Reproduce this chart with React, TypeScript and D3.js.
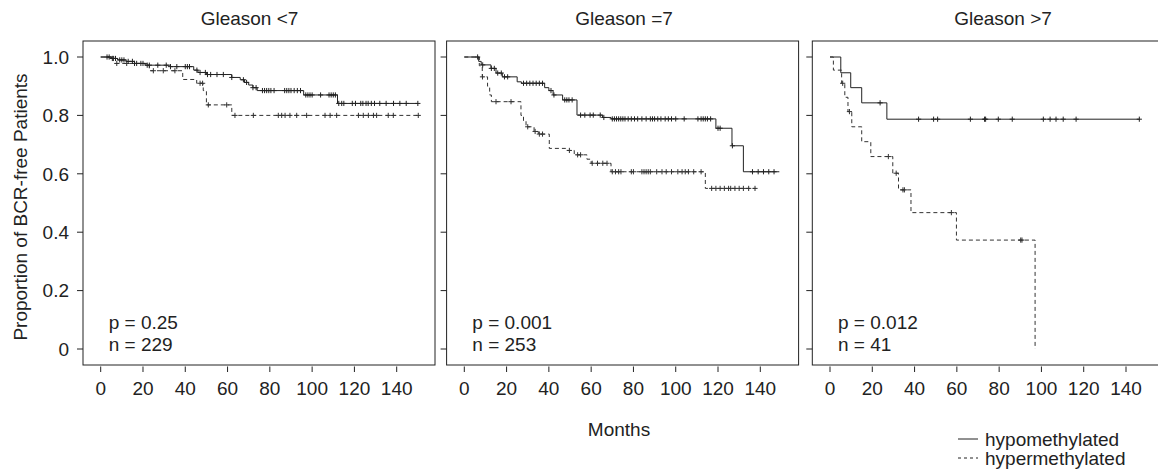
import React from 'react'
import * as d3 from 'd3'

// panel titles and stats
const TITLES = ['Gleason <7', 'Gleason =7', 'Gleason >7']
const P_VALUES = ['0.25', '0.001', '0.012']
const N_VALUES = ['229', '253', '41']

const X_TICKS = [0, 20, 40, 60, 80, 100, 120, 140]
const Y_TICKS = [0, 0.2, 0.4, 0.6, 0.8, 1.0]
const Y_TICK_LABELS = ['0', '0.2', '0.4', '0.6', '0.8', '1.0']

// Kaplan-Meier steps: [month, proportion after the step]
const g1HypoSteps = [[0, 1], [5, 0.995], [8, 0.99], [12, 0.985], [16, 0.978], [21, 0.972], [33, 0.967], [44, 0.955], [46, 0.947], [50, 0.94], [62, 0.93], [66, 0.922], [68, 0.913], [70, 0.904], [72, 0.895], [74, 0.885], [96, 0.87], [112, 0.841]]
const g1HypoEnd = 150
const g1HypoCensor = [3, 4, 5.5, 6, 7, 9, 10, 11, 13, 15, 16, 17, 19, 20, 22, 23, 27, 31, 33, 36, 40, 41, 42, 45.5, 47, 49.5, 50.5, 52, 55, 58, 62, 67.5, 69, 72, 73.5, 76.5, 77.5, 78.5, 79.5, 80.5, 82, 87, 88, 89, 90, 91.5, 93, 94.5, 97, 98, 99, 100, 104, 108, 109, 110, 111, 112.6, 114, 115, 119, 120.5, 123, 124, 125.5, 126.5, 128, 129.5, 132, 135, 138.5, 141.5, 144.5, 150]

const g1HyperSteps = [[0, 1], [7, 0.978], [23, 0.953], [38.8, 0.923], [45.4, 0.91], [48.5, 0.885], [50, 0.836], [62, 0.8]]
const g1HyperEnd = 151
const g1HyperCensor = [7.6, 12.3, 24.9, 29.6, 35.1, 47, 48.2, 50.9, 59.6, 63.5, 72.2, 84, 85.6, 87.2, 89.5, 92.7, 97.4, 106.1, 108.5, 111.6, 121.9, 124.2, 126.6, 129, 130.5, 136, 138.4, 150.2]

const g2HypoSteps = [[0, 1], [6.8, 0.985], [8, 0.973], [12.6, 0.961], [15, 0.945], [18, 0.932], [25, 0.915], [27, 0.91], [38, 0.895], [40, 0.885], [42, 0.87], [46.5, 0.853], [53.3, 0.801], [65.4, 0.793], [69.4, 0.788], [119, 0.756], [126.6, 0.696], [132, 0.607]]
const g2HypoEnd = 149
const g2HypoCensor = [6.3, 8.7, 12.8, 14.2, 15.8, 17.5, 19, 20.5, 28, 29.5, 31, 32.5, 34, 35.5, 37, 41, 42.4, 47.5, 48.5, 49.5, 51, 55, 57, 59.5, 61, 64.3, 66, 70, 71, 72, 73, 74, 75, 76, 77.5, 79, 80.5, 82, 84, 86, 88, 89, 90, 91.5, 93, 95, 96.5, 98, 100, 104, 110.5, 112, 113, 114, 115, 116.5, 120, 121, 126.8, 136.3, 139, 141.5, 144, 146.5]

const g2HyperSteps = [[0, 1], [7.1, 0.97], [8.5, 0.932], [11, 0.9], [12, 0.87], [12.8, 0.847], [26.8, 0.8], [28, 0.78], [29.2, 0.761], [33, 0.745], [35, 0.736], [40.2, 0.687], [48, 0.68], [52, 0.665], [58, 0.65], [60, 0.636], [69.4, 0.607], [114, 0.55]]
const g2HyperEnd = 138
const g2HyperCensor = [8.6, 15, 22.1, 30, 33.5, 35.5, 37, 49.7, 53.6, 55, 60.5, 63, 65.5, 67.5, 70, 71.5, 73, 74.1, 79, 80, 84, 85, 86, 87, 88, 91, 93.5, 95.5, 98, 101, 103, 104.5, 106, 108.5, 112, 117, 119, 121, 123, 125, 126, 128, 130, 132, 134.5, 137.5]

const g3HypoSteps = [[0, 1], [5.1, 0.946], [9.8, 0.895], [15, 0.843], [26.9, 0.787]]
const g3HypoEnd = 146.3
const g3HypoCensor = [23.7, 41.9, 49, 50.9, 66.4, 73.1, 73.6, 79.6, 86.2, 100.9, 104.1, 106.9, 110.3, 116.4, 146.3]

const g3HyperSteps = [[0, 1], [1.6, 0.955], [5.5, 0.91], [7, 0.862], [8.5, 0.813], [10.3, 0.761], [15, 0.71], [19.3, 0.659], [29.7, 0.602], [32.4, 0.545], [38.3, 0.467], [59.8, 0.373], [97, 0]]
const g3HyperEnd = 97
const g3HyperCensor = [6, 9.2, 27.6, 31.3, 34.5, 35.2, 57.4, 90.2, 90.8]

const PANELS = [
  { hypo: g1HypoSteps, hypoEnd: g1HypoEnd, hypoCensor: g1HypoCensor, hyper: g1HyperSteps, hyperEnd: g1HyperEnd, hyperCensor: g1HyperCensor },
  { hypo: g2HypoSteps, hypoEnd: g2HypoEnd, hypoCensor: g2HypoCensor, hyper: g2HyperSteps, hyperEnd: g2HyperEnd, hyperCensor: g2HyperCensor },
  { hypo: g3HypoSteps, hypoEnd: g3HypoEnd, hypoCensor: g3HypoCensor, hyper: g3HyperSteps, hyperEnd: g3HyperEnd, hyperCensor: g3HyperCensor },
]

// layout
const width = 1158
const height = 472
const panelLefts = [83, 446.6, 812.3]
const panelWidth = 352
const boxTop = 41
const boxBottom = 365
const titleX = [249.5, 624, 1003]
const font = "'Liberation Sans', Arial, sans-serif"
const fontSize = 19
const ink = '#222'

const yScale = d3.scaleLinear().domain([0, 1]).range([349, 57])

const survivalAt = (steps: number[][], t: number) => {
  let s = steps[0][1]
  for (const st of steps) if (st[0] <= t) s = st[1]
  return s
}

const Curve = ({ steps, end, censor, xScale, dashed }: any) => {
  const pts = [...steps, [end, steps[steps.length - 1][1]]]
  const line = d3.line<number[]>()
    .x(d => xScale(d[0]))
    .y(d => yScale(d[1]))
    .curve(d3.curveStepAfter)
  const col = dashed ? '#333' : ink
  return (
    <g>
      <path d={line(pts) || ''} fill="none" stroke={col} strokeWidth={1}
        strokeDasharray={dashed ? '4,3' : undefined} />
      {censor.map((t: number, i: number) => {
        const cx = xScale(t)
        const cy = yScale(survivalAt(steps, t))
        return (
          <path key={i} d={`M${cx - 2.6},${cy}H${cx + 2.6}M${cx},${cy - 2.6}V${cy + 2.6}`}
            stroke={col} strokeWidth={1} />
        )
      })}
    </g>
  )
}

const Panel = ({ idx }: { idx: number }) => {
  const left = panelLefts[idx]
  const xScale = d3.scaleLinear().domain([0, 140]).range([left + 17.7, left + 313.7])
  const p = PANELS[idx]
  return (
    <g>
      <text x={titleX[idx]} y={25} textAnchor="middle">{TITLES[idx]}</text>
      <rect x={left} y={boxTop} width={panelWidth} height={boxBottom - boxTop}
        fill="none" stroke={ink} strokeWidth={1} />
      {Y_TICKS.map((v, i) => (
        <g key={i}>
          <line x1={left - 6} x2={left} y1={yScale(v)} y2={yScale(v)} stroke={ink} />
          {idx === 0 && (
            <text x={69} y={yScale(v)} dy="0.36em" textAnchor="end">{Y_TICK_LABELS[i]}</text>
          )}
        </g>
      ))}
      {X_TICKS.map(v => (
        <g key={v}>
          <line x1={xScale(v)} x2={xScale(v)} y1={366.5} y2={372} stroke={ink} />
          <text x={xScale(v)} y={395} textAnchor="middle">{v}</text>
        </g>
      ))}
      <Curve steps={p.hyper} end={p.hyperEnd} censor={p.hyperCensor} xScale={xScale} dashed />
      <Curve steps={p.hypo} end={p.hypoEnd} censor={p.hypoCensor} xScale={xScale} />
      <text x={xScale(0) + 8} y={328.5}>p = {P_VALUES[idx]}</text>
      <text x={xScale(0) + 8} y={350.5}>n = {N_VALUES[idx]}</text>
    </g>
  )
}

const App = () => {
  return (
    <svg width={width} height={height}
      style={{ position: 'absolute', left: 0, top: 0, background: '#fff' }}
      fontFamily={font} fontSize={fontSize} fill={ink}>
      {[0, 1, 2].map(i => <Panel key={i} idx={i} />)}
      <text transform="translate(27,207) rotate(-90)" textAnchor="middle">Proportion of BCR-free Patients</text>
      <text x={619} y={436} textAnchor="middle">Months</text>
      <line x1={958} x2={978} y1={439} y2={439} stroke={ink} />
      <text x={985} y={445.5}>hypomethylated</text>
      <line x1={958} x2={978} y1={458} y2={458} stroke={ink} strokeDasharray="3,3" />
      <text x={985} y={464.5}>hypermethylated</text>
    </svg>
  )
}

export default App
